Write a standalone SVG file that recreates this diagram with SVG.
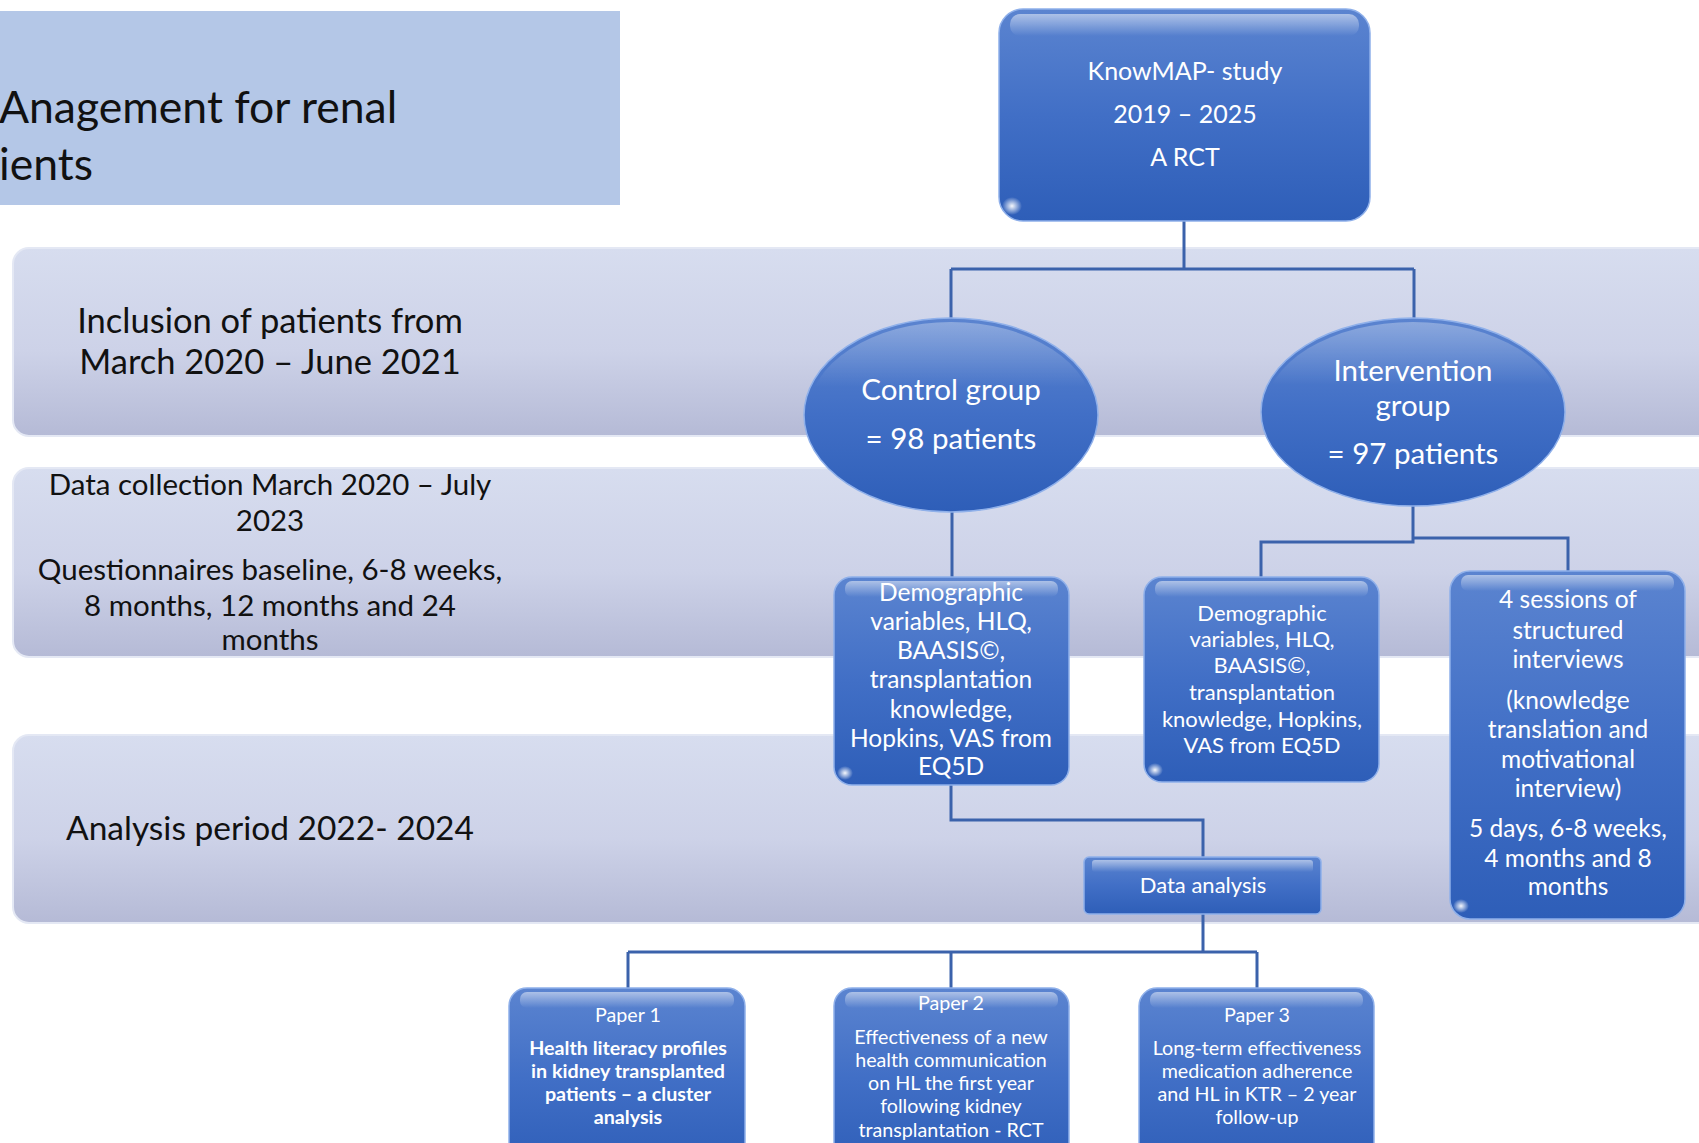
<svg xmlns="http://www.w3.org/2000/svg" width="1699" height="1143" viewBox="0 0 1699 1143">
<defs>
<linearGradient id="band" x1="0" y1="0" x2="0" y2="1">
<stop offset="0" stop-color="#D7DDEF"/>
<stop offset="0.55" stop-color="#CDD2E8"/>
<stop offset="1" stop-color="#B5BAD6"/>
</linearGradient>
<linearGradient id="node" x1="0" y1="0" x2="0" y2="1">
<stop offset="0" stop-color="#5B84D0"/>
<stop offset="0.5" stop-color="#416FC6"/>
<stop offset="1" stop-color="#2E5EB8"/>
</linearGradient>
<linearGradient id="gloss" x1="0" y1="0" x2="0" y2="1">
<stop offset="0" stop-color="#FFFFFF" stop-opacity="0.5"/>
<stop offset="1" stop-color="#FFFFFF" stop-opacity="0"/>
</linearGradient>
<linearGradient id="egloss" x1="0" y1="0" x2="0" y2="1">
<stop offset="0" stop-color="#FFFFFF" stop-opacity="0.3"/>
<stop offset="0.35" stop-color="#FFFFFF" stop-opacity="0"/>
</linearGradient>
<radialGradient id="glint" cx="0.5" cy="0.5" r="0.5">
<stop offset="0" stop-color="#FFFFFF" stop-opacity="0.95"/>
<stop offset="1" stop-color="#FFFFFF" stop-opacity="0"/>
</radialGradient>
<style>
.band{fill:url(#band);stroke:#E4E8F4;stroke-width:2}
.box{fill:url(#node);stroke:#8FB0EA;stroke-width:1.5}
.gl{fill:url(#gloss)}
.eg{fill:url(#egloss)}
.gn{fill:url(#glint)}
.con{fill:none;stroke:#3B62AB;stroke-width:3}
.dark{font-family:Lato,"Open Sans","Liberation Sans",sans-serif;fill:#111111;text-anchor:middle}
.wt{font-family:Lato,"Open Sans","Liberation Sans",sans-serif;fill:#FFFFFF;text-anchor:middle}
</style>
</defs>
<rect width="1699" height="1143" fill="#FFFFFF"/>

<g id="title">
<rect x="0" y="11" width="620" height="194" fill="#B4C7E7"/>
<text x="-1" y="123" font-family="Lato,'Open Sans','Liberation Sans',sans-serif" font-size="44.5" fill="#111111">Anagement for renal</text>
<text x="-1" y="180" font-family="Lato,'Open Sans','Liberation Sans',sans-serif" font-size="44.5" fill="#111111">ients</text>
</g>

<g id="band-inclusion">
<rect class="band" x="13" y="248" width="1720" height="188" rx="16"/>
<text class="dark" font-size="34.5" x="270" y="333">Inclusion of patients from</text>
<text class="dark" font-size="34.5" x="270" y="374">March 2020 – June 2021</text>
</g>
<g id="band-data">
<rect class="band" x="13" y="468" width="1720" height="189" rx="16"/>
<text class="dark" font-size="29.5" x="270" y="495">Data collection March 2020 – July</text>
<text class="dark" font-size="29.5" x="270" y="531">2023</text>
<text class="dark" font-size="29.5" x="270" y="580">Questionnaires baseline, 6-8 weeks,</text>
<text class="dark" font-size="29.5" x="270" y="616">8 months, 12 months and 24</text>
<text class="dark" font-size="29.5" x="270" y="650">months</text>
</g>
<g id="band-analysis">
<rect class="band" x="13" y="735" width="1720" height="188" rx="16"/>
<text class="dark" font-size="33.5" x="270" y="840">Analysis period 2022- 2024</text>
</g>

<g id="connectors">
<path class="con" d="M1184 221 V269 M951 269 H1414 M951 269 V322 M1414 269 V319"/>
<path class="con" d="M952 511 V577"/>
<path class="con" d="M1413 505 V542 H1261 V577 M1413 538 H1568 V571"/>
<path class="con" d="M951 785 V820 H1203 V857"/>
<path class="con" d="M1203 914 V952 M628 952 H1257 M628 952 V988 M951 952 V988 M1257 952 V988"/>
</g>

<g id="knowmap">
<rect class="box" x="999" y="9" width="371" height="212" rx="24"/>
<rect class="gl" x="1010" y="14" width="349" height="22" rx="10"/>
<ellipse class="gn" cx="1012" cy="206" rx="10" ry="9"/>
<text class="wt" font-size="25" x="1185" y="80">KnowMAP- study</text>
<text class="wt" font-size="25" x="1185" y="123">2019 – 2025</text>
<text class="wt" font-size="25" x="1185" y="166">A RCT</text>
</g>

<g id="control">
<ellipse class="box" cx="951" cy="415" rx="147" ry="97"/>
<ellipse class="eg" cx="951" cy="415" rx="143" ry="93"/>
<text class="wt" font-size="29.5" x="951" y="400">Control group</text>
<text class="wt" font-size="29.5" x="951" y="449">= 98 patients</text>
</g>

<g id="intervention">
<ellipse class="box" cx="1413" cy="412" rx="152" ry="94"/>
<ellipse class="eg" cx="1413" cy="412" rx="148" ry="90"/>
<text class="wt" font-size="29.5" x="1413" y="381">Intervention</text>
<text class="wt" font-size="29.5" x="1413" y="416">group</text>
<text class="wt" font-size="29.5" x="1413" y="464">= 97 patients</text>
</g>

<g id="demo-control">
<rect class="box" x="834" y="577" width="235" height="208" rx="18"/>
<rect class="gl" x="845" y="581" width="213" height="16" rx="7"/>
<ellipse class="gn" cx="845" cy="773" rx="8" ry="7"/>
<text class="wt" font-size="24.5" x="951" y="601">Demographic</text>
<text class="wt" font-size="24.5" x="951" y="630">variables, HLQ,</text>
<text class="wt" font-size="24.5" x="951" y="659">BAASIS©,</text>
<text class="wt" font-size="24.5" x="951" y="688">transplantation</text>
<text class="wt" font-size="24.5" x="951" y="718">knowledge,</text>
<text class="wt" font-size="24.5" x="951" y="747">Hopkins, VAS from</text>
<text class="wt" font-size="24.5" x="951" y="775">EQ5D</text>
</g>

<g id="demo-intervention">
<rect class="box" x="1144" y="577" width="235" height="205" rx="18"/>
<rect class="gl" x="1155" y="581" width="213" height="16" rx="7"/>
<ellipse class="gn" cx="1155" cy="770" rx="8" ry="7"/>
<text class="wt" font-size="22" x="1262" y="621">Demographic</text>
<text class="wt" font-size="22" x="1262" y="647">variables, HLQ,</text>
<text class="wt" font-size="22" x="1262" y="673">BAASIS©,</text>
<text class="wt" font-size="22" x="1262" y="700">transplantation</text>
<text class="wt" font-size="22" x="1262" y="727">knowledge, Hopkins,</text>
<text class="wt" font-size="22" x="1262" y="753">VAS from EQ5D</text>
</g>

<g id="sessions">
<rect class="box" x="1450" y="571" width="235" height="348" rx="20"/>
<rect class="gl" x="1461" y="575" width="213" height="16" rx="7"/>
<ellipse class="gn" cx="1461" cy="906" rx="8" ry="7"/>
<text class="wt" font-size="24.5" x="1568" y="608">4 sessions of</text>
<text class="wt" font-size="24.5" x="1568" y="639">structured</text>
<text class="wt" font-size="24.5" x="1568" y="668">interviews</text>
<text class="wt" font-size="24.5" x="1568" y="709">(knowledge</text>
<text class="wt" font-size="24.5" x="1568" y="738">translation and</text>
<text class="wt" font-size="24.5" x="1568" y="768">motivational</text>
<text class="wt" font-size="24.5" x="1568" y="797">interview)</text>
<text class="wt" font-size="24.5" x="1568" y="837">5 days, 6-8 weeks,</text>
<text class="wt" font-size="24.5" x="1568" y="867">4 months and 8</text>
<text class="wt" font-size="24.5" x="1568" y="895">months</text>
</g>

<g id="data-analysis">
<rect class="box" x="1084" y="857" width="237" height="57" rx="5"/>
<rect class="gl" x="1092" y="860" width="221" height="12" rx="3"/>
<text class="wt" font-size="22" x="1203" y="893">Data analysis</text>
</g>

<g id="paper1">
<rect class="box" x="509" y="988" width="236" height="180" rx="18"/>
<rect class="gl" x="520" y="992" width="214" height="16" rx="7"/>
<text class="wt" font-size="19.7" x="628" y="1022">Paper 1</text>
<text class="wt" font-size="19.7" font-weight="bold" x="628" y="1055">Health literacy profiles</text>
<text class="wt" font-size="19.7" font-weight="bold" x="628" y="1078">in kidney transplanted</text>
<text class="wt" font-size="19.7" font-weight="bold" x="628" y="1101">patients – a cluster</text>
<text class="wt" font-size="19.7" font-weight="bold" x="628" y="1124">analysis</text>
</g>

<g id="paper2">
<rect class="box" x="834" y="988" width="235" height="180" rx="18"/>
<rect class="gl" x="845" y="992" width="213" height="16" rx="7"/>
<text class="wt" font-size="19.7" x="951" y="1010">Paper 2</text>
<text class="wt" font-size="19.7" x="951" y="1044">Effectiveness of a new</text>
<text class="wt" font-size="19.7" x="951" y="1067">health communication</text>
<text class="wt" font-size="19.7" x="951" y="1090">on HL the first year</text>
<text class="wt" font-size="19.7" x="951" y="1113">following kidney</text>
<text class="wt" font-size="19.7" x="951" y="1137">transplantation - RCT</text>
</g>

<g id="paper3">
<rect class="box" x="1139" y="988" width="235" height="180" rx="18"/>
<rect class="gl" x="1150" y="992" width="213" height="16" rx="7"/>
<text class="wt" font-size="19.7" x="1257" y="1022">Paper 3</text>
<text class="wt" font-size="19.7" x="1257" y="1055">Long-term effectiveness</text>
<text class="wt" font-size="19.7" x="1257" y="1078">medication adherence</text>
<text class="wt" font-size="19.7" x="1257" y="1101">and HL in KTR – 2 year</text>
<text class="wt" font-size="19.7" x="1257" y="1124">follow-up</text>
</g>
</svg>
